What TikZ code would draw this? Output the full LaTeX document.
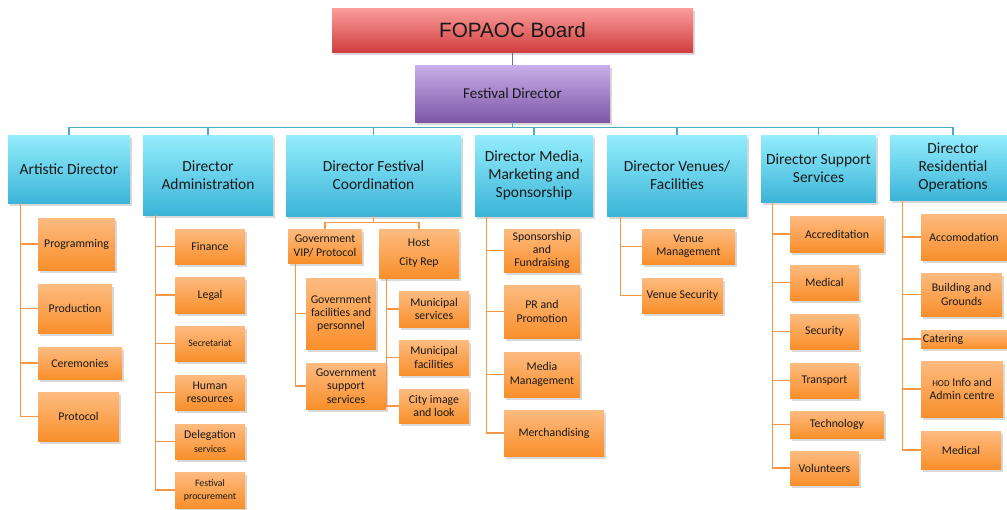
\documentclass[tikz,border=0pt]{standalone}
\usepackage{fontspec}
\setmainfont{Carlito}
\newfontfamily\boardfont{Liberation Sans}
\usetikzlibrary{shadows}

\definecolor{cyantop}{HTML}{94EDFC}
\definecolor{cyanbot}{HTML}{3BB4D8}
\definecolor{orgtop}{HTML}{FDBB80}
\definecolor{orgbot}{HTML}{F98F2B}
\definecolor{redtop}{HTML}{FB9C9C}
\definecolor{redbot}{HTML}{D13F3F}
\definecolor{purtop}{HTML}{C8AEEA}
\definecolor{purbot}{HTML}{7E57A7}
\definecolor{linkblue}{HTML}{4BACC6}
\definecolor{linkorange}{HTML}{F79646}
\definecolor{linkpurple}{HTML}{8064A2}

\tikzset{
  sz/.style 2 args={minimum width=#1*0.025cm, minimum height=#2*0.025cm},
  dirbox/.style={top color=cyantop, bottom color=cyanbot, font=\fontsize{11}{12.6}\selectfont},
  subbox/.style={top color=orgtop, bottom color=orgbot, font=\fontsize{8.4}{9.4}\selectfont},
  bluelink/.style={draw=linkblue, line width=0.9pt},
  orangelink/.style={draw=linkorange, line width=0.9pt},
}
\newcommand{\tinytxt}[1]{{\fontsize{7}{7.8}\selectfont #1}}

\begin{document}
\begin{tikzpicture}[x=0.025cm,y=-0.025cm]
  \useasboundingbox (0,0) rectangle (1007,509);

  \begin{scope}[every node/.style={inner sep=1pt, align=center, text=black!90,
      drop shadow={shadow xshift=1.5pt, shadow yshift=-2pt, opacity=.3}}]
    \node[sz={361}{44}, top color=redtop, bottom color=redbot, font=\boardfont\fontsize{14.7}{16}\selectfont] (board) at (512.5,30) {FOPAOC Board};
    \node[sz={195}{57}, top color=purtop, bottom color=purbot, font=\fontsize{10.7}{12}\selectfont] (fd) at (512.5,93.5) {Festival Director};

    \node[dirbox, sz={122}{68}] (ad)   at (69,169)      {Artistic Director};
    \node[dirbox, sz={130}{80}] (dadm) at (208,175)     {Director\\Administration};
    \node[dirbox, sz={175}{81}] (dfc)  at (373.5,175.5) {Director Festival\\Coordination};
    \node[dirbox, sz={118}{81}] (dmm)  at (534,175.5)   {Director Media,\\Marketing and\\Sponsorship};
    \node[dirbox, sz={140}{81}] (dvf)  at (677,175.5)   {Director Venues/\\Facilities};
    \node[dirbox, sz={115}{67}] (dss)  at (818.5,168.5) {Director Support\\Services};
    \node[dirbox, sz={126}{65}] (dro)  at (953,167.5)   {Director\\Residential\\Operations};

    \node[subbox, sz={77}{52}] (prog) at (76.5,244)  {Programming};
    \node[subbox, sz={74}{49}] (prod) at (75,308.5)  {Production};
    \node[subbox, sz={84}{32}] (cere) at (80,363)    {Ceremonies};
    \node[subbox, sz={81}{49}] (prot) at (78.5,416.5) {Protocol};

    \node[subbox, sz={70}{35}] (fin)   at (210,246.5) {Finance};
    \node[subbox, sz={70}{36}] (legal) at (210,295)   {Legal};
    \node[subbox, sz={70}{35}] (secr)  at (210,343.5) {\tinytxt{Secretariat}};
    \node[subbox, sz={70}{35}] (hr)    at (210,392.5) {Human\\resources};
    \node[subbox, sz={70}{35}] (deleg) at (210,441.5) {Delegation\\\tinytxt{services}};
    \node[subbox, sz={70}{36}] (procu) at (210,490)   {\tinytxt{Festival}\\\tinytxt{procurement}};

    \node[subbox, sz={74}{34}] (gvip) at (325,246)   {Government\\VIP/ Protocol};
    \node[subbox, sz={80}{49}] (host) at (419,253.5) {Host\\[4pt]City Rep};
    \node[subbox, sz={70}{71}] (gfac) at (341,313.5) {Government\\facilities and\\personnel};
    \node[subbox, sz={80}{46}] (gsup) at (346,386)   {Government\\support\\services};
    \node[subbox, sz={70}{36}] (msrv) at (434,309)   {Municipal\\services};
    \node[subbox, sz={70}{35}] (mfac) at (434,357.5) {Municipal\\facilities};
    \node[subbox, sz={70}{34}] (city) at (434,406)   {City image\\and look};

    \node[subbox, sz={76}{43}]  (spon)  at (542,250.5) {Sponsorship\\and\\Fundraising};
    \node[subbox, sz={76}{53}]  (pr)    at (542,311.5) {PR and\\Promotion};
    \node[subbox, sz={76}{45}]  (mm)    at (542,374.5) {Media\\Management};
    \node[subbox, sz={100}{46}] (merch) at (554,433)   {Merchandising};

    \node[subbox, sz={93}{35}] (vm) at (688.5,246.5) {Venue\\Management};
    \node[subbox, sz={81}{35}] (vs) at (682.5,295.5) {Venue Security};

    \node[subbox, sz={94}{36}] (accr)  at (837,234)   {Accreditation};
    \node[subbox, sz={69}{35}] (med)   at (824.5,282.5) {Medical};
    \node[subbox, sz={69}{35}] (secu)  at (824.5,331.5) {Security};
    \node[subbox, sz={69}{35}] (trans) at (824.5,380.5) {Transport};
    \node[subbox, sz={94}{27}] (tech)  at (837,424.5) {Technology};
    \node[subbox, sz={69}{34}] (vol)   at (824.5,468) {Volunteers};

    \node[subbox, sz={86}{46}] (accom) at (964,237)   {Accomodation};
    \node[subbox, sz={81}{43}] (bldg)  at (961.5,294.5) {Building and\\Grounds};
    \node[subbox, sz={86}{18}, text width=2.05cm, align=left] (cater) at (964,339) {Catering};
    \node[subbox, sz={82}{56}] (hod)   at (962,389)   {{\fontsize{6.5}{7}\selectfont HOD} Info and\\Admin centre};
    \node[subbox, sz={80}{38}] (resmed) at (961,450)  {Medical};
  \end{scope}

  \draw[draw=linkpurple, line width=0.9pt] (board.south) -- (fd.north);
  \foreach \d in {ad,dadm,dfc,dmm,dvf,dss,dro}
    \draw[bluelink] (fd.south) -- ++(0,5.5) -| (\d.north);

  \foreach \c in {prog,prod,cere,prot}
    \draw[orangelink] (ad.south west) ++(13,0) |- (\c.west);
  \foreach \c in {fin,legal,secr,hr,deleg,procu}
    \draw[orangelink] (dadm.south west) ++(13,0) |- (\c.west);
  \foreach \c in {gvip,host}
    \draw[orangelink] (dfc.south) -- ++(0,6) -| (\c.north);
  \foreach \c in {gfac,gsup}
    \draw[orangelink] (gvip.south west) ++(8,0) |- (\c.west);
  \foreach \c in {msrv,mfac,city}
    \draw[orangelink] (host.south west) ++(8,0) |- (\c.west);
  \foreach \c in {spon,pr,mm,merch}
    \draw[orangelink] (dmm.south west) ++(12,0) |- (\c.west);
  \foreach \c in {vm,vs}
    \draw[orangelink] (dvf.south west) ++(14,0) |- (\c.west);
  \foreach \c in {accr,med,secu,trans,tech,vol}
    \draw[orangelink] (dss.south west) ++(12,0) |- (\c.west);
  \foreach \c in {accom,bldg,cater,hod,resmed}
    \draw[orangelink] (dro.south west) ++(13,0) |- (\c.west);

\end{tikzpicture}
\end{document}
